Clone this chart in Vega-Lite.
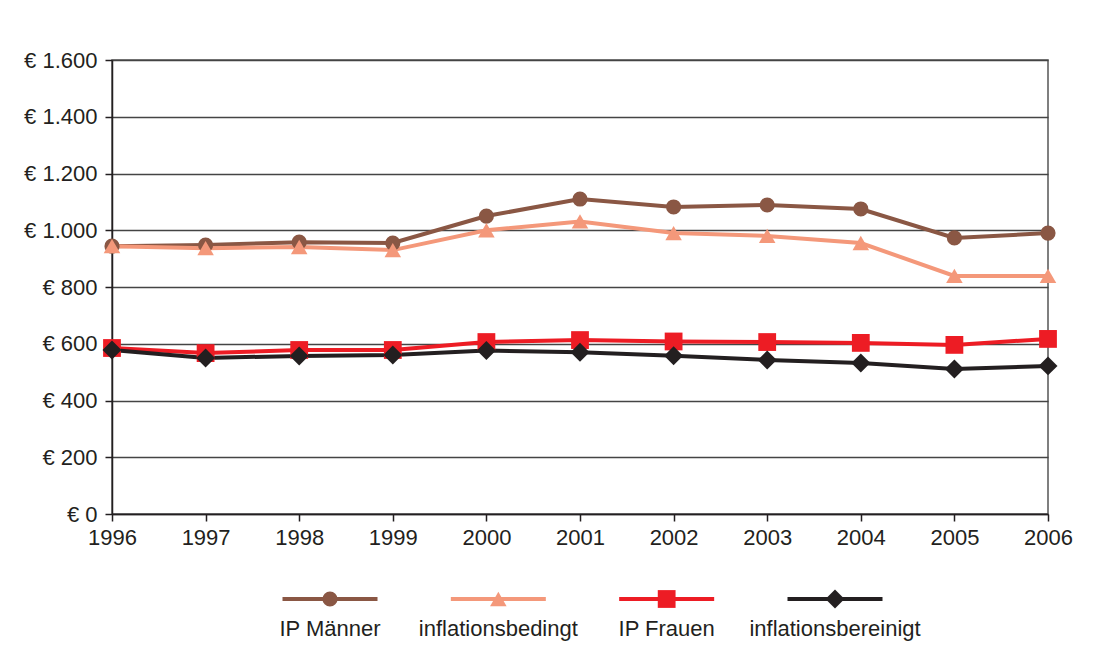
{
  "$schema": "https://vega.github.io/schema/vega-lite/v6.json",
  "padding": {"left": 22, "top": 48, "right": 10, "bottom": 5},
  "background": "white",
  "config": {
    "font": "Liberation Sans",
    "view": {"stroke": null},
    "concat": {"spacing": 20}
  },
  "datasets": {
    "d": [
      {"year": 1996, "series": "IP Männer", "value": 944},
      {"year": 1997, "series": "IP Männer", "value": 948},
      {"year": 1998, "series": "IP Männer", "value": 958},
      {"year": 1999, "series": "IP Männer", "value": 955},
      {"year": 2000, "series": "IP Männer", "value": 1050},
      {"year": 2001, "series": "IP Männer", "value": 1110},
      {"year": 2002, "series": "IP Männer", "value": 1082},
      {"year": 2003, "series": "IP Männer", "value": 1089},
      {"year": 2004, "series": "IP Männer", "value": 1075},
      {"year": 2005, "series": "IP Männer", "value": 973},
      {"year": 2006, "series": "IP Männer", "value": 990},
      {"year": 1996, "series": "inflationsbedingt", "value": 944},
      {"year": 1997, "series": "inflationsbedingt", "value": 937},
      {"year": 1998, "series": "inflationsbedingt", "value": 941},
      {"year": 1999, "series": "inflationsbedingt", "value": 930},
      {"year": 2000, "series": "inflationsbedingt", "value": 1000},
      {"year": 2001, "series": "inflationsbedingt", "value": 1031},
      {"year": 2002, "series": "inflationsbedingt", "value": 990},
      {"year": 2003, "series": "inflationsbedingt", "value": 980},
      {"year": 2004, "series": "inflationsbedingt", "value": 955},
      {"year": 2005, "series": "inflationsbedingt", "value": 839},
      {"year": 2006, "series": "inflationsbedingt", "value": 839},
      {"year": 1996, "series": "IP Frauen", "value": 585},
      {"year": 1997, "series": "IP Frauen", "value": 567},
      {"year": 1998, "series": "IP Frauen", "value": 578},
      {"year": 1999, "series": "IP Frauen", "value": 578},
      {"year": 2000, "series": "IP Frauen", "value": 606},
      {"year": 2001, "series": "IP Frauen", "value": 613},
      {"year": 2002, "series": "IP Frauen", "value": 608},
      {"year": 2003, "series": "IP Frauen", "value": 606},
      {"year": 2004, "series": "IP Frauen", "value": 603},
      {"year": 2005, "series": "IP Frauen", "value": 596},
      {"year": 2006, "series": "IP Frauen", "value": 617},
      {"year": 1996, "series": "inflationsbereinigt", "value": 578},
      {"year": 1997, "series": "inflationsbereinigt", "value": 550},
      {"year": 1998, "series": "inflationsbereinigt", "value": 557},
      {"year": 1999, "series": "inflationsbereinigt", "value": 560},
      {"year": 2000, "series": "inflationsbereinigt", "value": 576},
      {"year": 2001, "series": "inflationsbereinigt", "value": 570},
      {"year": 2002, "series": "inflationsbereinigt", "value": 558},
      {"year": 2003, "series": "inflationsbereinigt", "value": 543},
      {"year": 2004, "series": "inflationsbereinigt", "value": 532},
      {"year": 2005, "series": "inflationsbereinigt", "value": 511},
      {"year": 2006, "series": "inflationsbereinigt", "value": 522}
    ]
  },
  "vconcat": [
    {
      "width": 936,
      "height": 454,
      "data": {"name": "d"},
      "view": {"stroke": "#555", "strokeWidth": 1.5},
      "encoding": {
        "x": {
          "field": "year", "type": "quantitative",
          "scale": {"domain": [1996, 2006], "nice": false, "zero": false},
          "axis": {
            "title": null, "values": [1996,1997,1998,1999,2000,2001,2002,2003,2004,2005,2006],
            "format": "d", "grid": false, "labelFontSize": 22, "labelColor": "#231f20",
            "domainColor": "#231f20", "domainWidth": 1.5, "tickColor": "#231f20", "tickWidth": 1.5,
            "tickSize": 7, "labelPadding": 6, "labelFlush": false
          }
        },
        "y": {
          "field": "value", "type": "quantitative",
          "scale": {"domain": [0, 1600], "nice": false},
          "axis": {
            "title": null, "values": [0,200,400,600,800,1000,1200,1400,1600],
            "labelExpr": "'€ ' + replace(format(datum.value, ',d'), ',', '.')",
            "grid": true, "gridColor": "#444", "gridWidth": 1.5,
            "labelFontSize": 22, "labelColor": "#231f20",
            "domainColor": "#231f20", "domainWidth": 1.5, "tickColor": "#231f20", "tickWidth": 1.5,
            "tickSize": 7, "labelPadding": 8
          }
        },
        "color": {
          "field": "series", "type": "nominal",
          "scale": {
            "domain": ["IP Männer", "inflationsbedingt", "IP Frauen", "inflationsbereinigt"],
            "range": ["#8a5744", "#f4987a", "#ed1c24", "#231f20"]
          },
          "legend": null
        }
      },
      "layer": [
        {"mark": {"type": "line", "strokeWidth": 4}},
        {
          "mark": {"type": "point", "filled": true, "opacity": 1},
          "encoding": {
            "shape": {
              "field": "series", "type": "nominal",
              "scale": {
                "domain": ["IP Männer", "inflationsbedingt", "IP Frauen", "inflationsbereinigt"],
                "range": ["circle", "triangle-up", "square", "diamond"]
              },
              "legend": null
            },
            "size": {
              "field": "series", "type": "nominal",
              "scale": {
                "domain": ["IP Männer", "inflationsbedingt", "IP Frauen", "inflationsbereinigt"],
                "range": [230, 360, 175, 190]
              },
              "legend": null
            }
          }
        }
      ]
    },
    {
      "width": 936,
      "height": 60,
      "data": {"name": "d"},
      "transform": [{"filter": "datum.year == 1996"}],
      "encoding": {
        "x": {
          "field": "series", "type": "nominal", "sort": ["IP Männer", "inflationsbedingt", "IP Frauen", "inflationsbereinigt"],
          "scale": {"type": "point", "padding": 0, "range": [218, 723]},
          "axis": null
        },
        "color": {
          "field": "series", "type": "nominal",
          "scale": {
            "domain": ["IP Männer", "inflationsbedingt", "IP Frauen", "inflationsbereinigt"],
            "range": ["#8a5744", "#f4987a", "#ed1c24", "#231f20"]
          },
          "legend": null
        }
      },
      "layer": [
        {"mark": {"type": "tick", "orient": "horizontal", "size": 95, "thickness": 4, "opacity": 1}},
        {
          "mark": {"type": "point", "filled": true, "opacity": 1},
          "encoding": {
            "shape": {
              "field": "series", "type": "nominal",
              "scale": {
                "domain": ["IP Männer", "inflationsbedingt", "IP Frauen", "inflationsbereinigt"],
                "range": ["circle", "triangle-up", "square", "diamond"]
              },
              "legend": null
            },
            "size": {
              "field": "series", "type": "nominal",
              "scale": {
                "domain": ["IP Männer", "inflationsbedingt", "IP Frauen", "inflationsbereinigt"],
                "range": [190, 380, 150, 170]
              },
              "legend": null
            }
          }
        },
        {
          "mark": {"type": "text", "fontSize": 22, "dy": 30, "baseline": "middle", "color": "#231f20"},
          "encoding": {"text": {"field": "series"}, "color": {"value": "#231f20"}}
        }
      ]
    }
  ]
}
